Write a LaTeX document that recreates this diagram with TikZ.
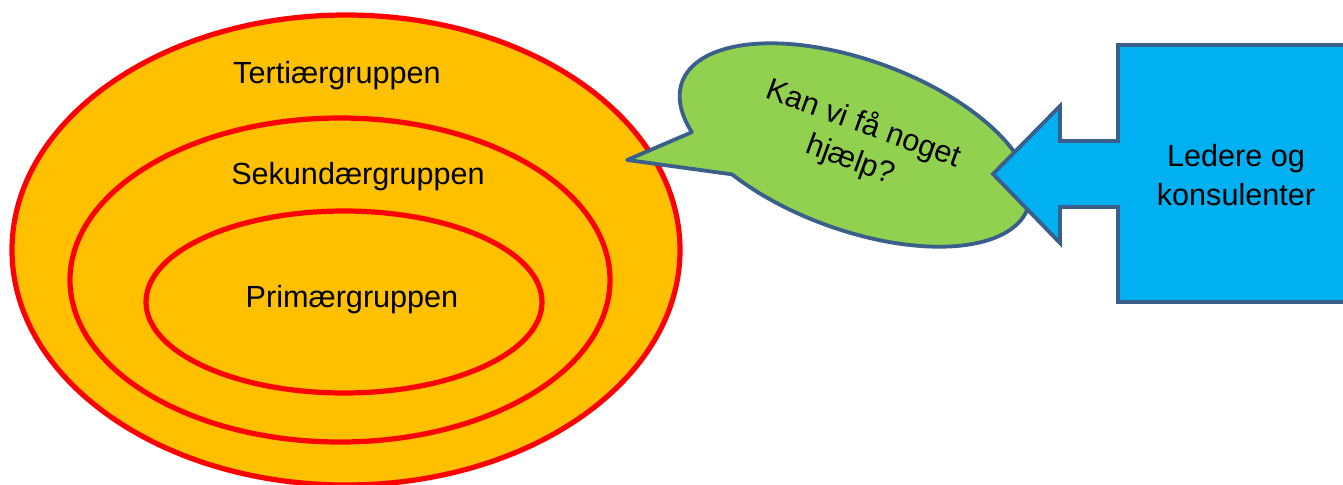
\documentclass[tikz,border=0pt]{standalone}
\usepackage{fontspec}
\setmainfont{Liberation Sans}
\definecolor{gruppeorange}{HTML}{FFC000}
\definecolor{grupperod}{HTML}{FF0000}
\definecolor{boblegronn}{HTML}{92D050}
\definecolor{kantbla}{HTML}{3A5F8B}
\definecolor{ledbla}{HTML}{00B0F0}
\tikzset{
	gruppe/.style={draw=grupperod, fill=gruppeorange, line width=2.6pt},
	gruppetekst/.style={anchor=base, inner sep=0pt, font=\fontsize{15.3}{18}\selectfont},
	boble/.style={draw=kantbla, fill=boblegronn, line width=1.9pt, line join=round},
	pil/.style={draw=kantbla, fill=ledbla, line width=1.9pt, line join=miter}
}

\begin{document}
\begin{tikzpicture}[x=0.5pt, y=0.5pt]
	\useasboundingbox (0,0) rectangle (1343,-484);
	% gruppene
	\draw[gruppe] (346,-250) ellipse [x radius=334, y radius=235];
	\draw[gruppe] (340,-280) ellipse [x radius=270, y radius=162];
	\draw[gruppe] (344,-302) ellipse [x radius=198, y radius=91];
	\node[gruppetekst] (tert) at (337,-83) {Tertiærgruppen};
	\node[gruppetekst] (sek) at (358,-184) {Sekundærgruppen};
	\node[gruppetekst] (prim) at (352,-307) {Primærgruppen};
	% snakkeboble
	\begin{scope}[shift={(855,-145)}, rotate=-20]
		\draw[boble] (235:184 and 85) arc [start angle=235, end angle=571, x radius=184, y radius=85]
			-- (-209,-92) -- cycle;
	\end{scope}
	\node[gruppetekst, anchor=center, align=center, rotate=-20, font=\fontsize{15.3}{19}\selectfont] (hjelp) at (857,-142)
		{Kan vi få noget\\hjælp?};
	% ledere
	\draw[pil] (1350,-45) -- (1118,-45) -- (1118,-141) -- (1060,-141) -- (1060,-106)
		-- (993,-174) -- (1060,-243) -- (1060,-207) -- (1118,-207) -- (1118,-302) -- (1350,-302);
	\node[gruppetekst, anchor=center, align=center, font=\fontsize{15.3}{19.5}\selectfont] (ledere) at (1236,-175)
		{Ledere og\\konsulenter};
\end{tikzpicture}
\end{document}
